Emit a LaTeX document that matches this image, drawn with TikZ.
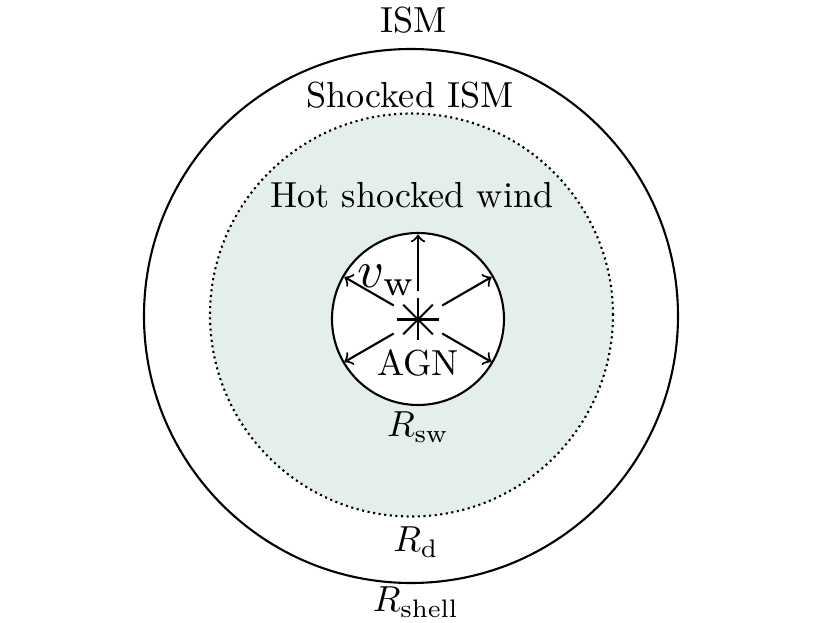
\documentclass[tikz,border=0pt]{standalone}
\usepackage{xcolor}
\definecolor{windfill}{RGB}{228,239,235}
\begin{document}
\begin{tikzpicture}[every node/.style={scale=1.03}]
            \useasboundingbox (-4.11,-3.07) rectangle (4.19,3.16);
            \draw[semithick] (0,0) circle (2.67);
            \draw[fill=windfill, densely dotted, line width=0.6pt] (0.005,0.01) circle (2.015);
            \draw[fill=white, semithick] (0.07,-0.03) circle (0.86);
            \coordinate (core) at (0.07,-0.035);

            % estrella central y flechas del viento
            \foreach \a in {0,45,...,315}
                \draw[semithick] (core) -- ([shift={(\a:0.21)}]core);
            \foreach \a in {30,90,150,210,330}
                \draw[semithick, ->] ([shift={(\a:0.28)}]core) -- ([shift={(\a:0.85)}]core);

            \node (ism) at (0.03,2.96) {ISM};
            \node (shocked) at (-0.01,2.21) {Shocked ISM};
            \node (hotwind) at (0.01,1.21) {Hot shocked wind};
            \node[scale=1.44] (vw) at (-0.24,0.36) {$v_{\mathrm{w}}$};
            \node (agn) at (0.07,-0.47) {AGN};
            \node (rsw) at (0.07,-1.11) {$R_{\mathrm{sw}}$};
            \node (rd) at (0.05,-2.26) {$R_{\mathrm{d}}$};
            \node (rshell) at (0.05,-2.86) {$R_{\mathrm{shell}}$};
        \end{tikzpicture}
\end{document}
